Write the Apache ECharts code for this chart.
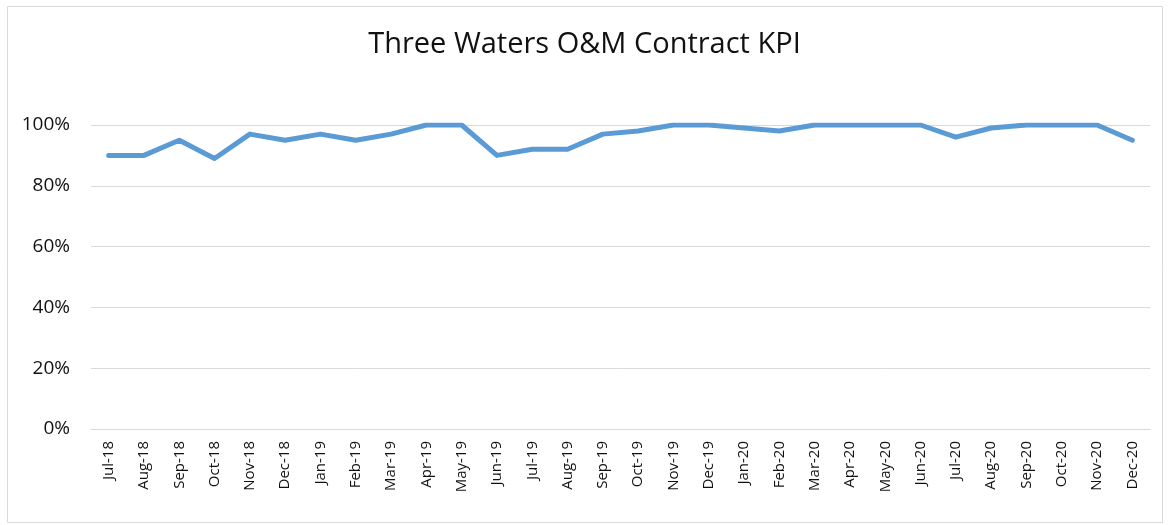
<!DOCTYPE html>
<html>
<head>
<meta charset="utf-8">
<script src="https://cdn.jsdelivr.net/npm/echarts@6/dist/echarts.min.js"></script>
<style>
html,body{margin:0;padding:0;background:#fff;}
#chart{width:1169px;height:525px;}
</style>
</head>
<body>
<div id="chart"></div>
<script>
const categories = ["Jul-18","Aug-18","Sep-18","Oct-18","Nov-18","Dec-18","Jan-19","Feb-19","Mar-19","Apr-19","May-19","Jun-19","Jul-19","Aug-19","Sep-19","Oct-19","Nov-19","Dec-19","Jan-20","Feb-20","Mar-20","Apr-20","May-20","Jun-20","Jul-20","Aug-20","Sep-20","Oct-20","Nov-20","Dec-20"];
const kpiValues = [0.90,0.90,0.95,0.89,0.97,0.95,0.97,0.95,0.97,1.00,1.00,0.90,0.92,0.92,0.97,0.98,1.00,1.00,0.99,0.98,1.00,1.00,1.00,1.00,0.96,0.99,1.00,1.00,1.00,0.95];
const chartTitle = "Three Waters O&M Contract KPI";

const chart = echarts.init(document.getElementById('chart'), null, {renderer:'canvas'});
const font = "'Open Sans', 'Liberation Sans', sans-serif";
chart.setOption({
  animation:false,
  backgroundColor:'#fff',
  textStyle:{fontFamily:font},
  title:{
    text:chartTitle,
    left:'center',
    top:25,
    textStyle:{fontFamily:font,fontSize:29,fontWeight:'normal',color:'#111'}
  },
  graphic:[{
    type:'rect',
    shape:{x:7.5,y:6.5,width:1155,height:516},
    style:{fill:'none',stroke:'#d9d9d9',lineWidth:1},
    silent:true
  }],
  grid:{left:91,right:19,top:125,bottom:96,containLabel:false},
  xAxis:{
    type:'category',
    data:categories,
    boundaryGap:true,
    axisLine:{lineStyle:{color:'#d9d9d9',width:1}},
    axisTick:{show:false},
    axisLabel:{rotate:90,color:'#111',fontSize:15,fontFamily:font,margin:12,interval:0}
  },
  yAxis:{
    type:'value',
    min:0,max:1,interval:0.2,
    axisLine:{show:false},
    axisTick:{show:false},
    splitLine:{lineStyle:{color:'#d9d9d9',width:1}},
    axisLabel:{color:'#111',fontSize:19,fontFamily:font,margin:21,
      formatter:v=>Math.round(v*100)+'%'}
  },
  series:[{
    type:'line',
    data:kpiValues,
    symbol:'none',
    lineStyle:{color:'#5B9BD5',width:5,cap:'round',join:'round'},
    itemStyle:{color:'#5B9BD5'}
  }]
});
</script>
</body>
</html>
